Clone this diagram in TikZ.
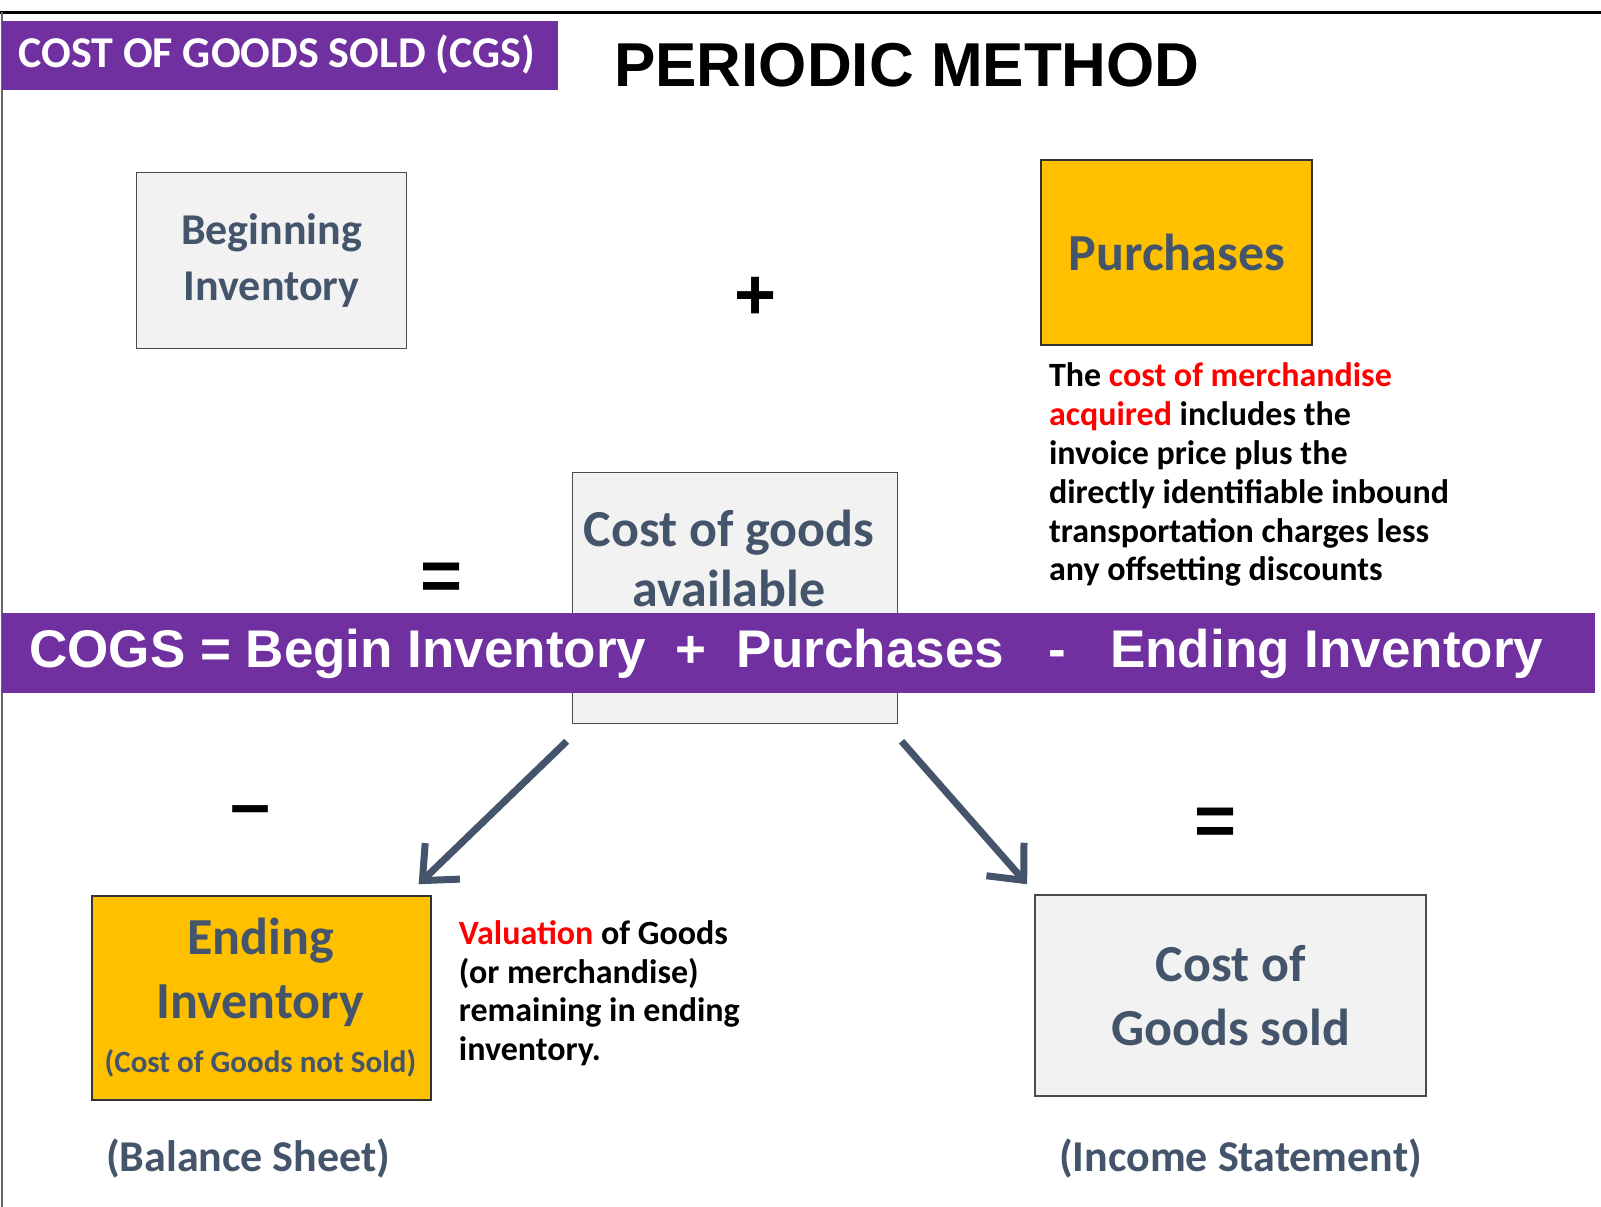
\documentclass[tikz,border=0pt]{standalone}
\usepackage{fontspec}
\setmainfont{Carlito}
\newfontfamily\arial{Liberation Sans}
\usetikzlibrary{arrows.meta}
\definecolor{slate}{HTML}{44546A}
\definecolor{purp}{HTML}{7030A0}
\definecolor{gold}{HTML}{FFC000}
\definecolor{lgray}{HTML}{F2F2F2}
\begin{document}
\begin{tikzpicture}[x=1.021pt,y=-1.021pt,
  lbox/.style={draw=black!70,line width=1.5pt,fill=lgray,text=slate,font=\bfseries\fontsize{44}{56}\selectfont,align=center},
  gbox/.style={draw=black!80,line width=2pt,fill=gold,text=slate,font=\bfseries\fontsize{52}{62}\selectfont,align=center},
  note/.style={anchor=north west,align=left,font=\bfseries\fontsize{34}{38.8}\selectfont},
  sign/.style={font=\arial\bfseries\fontsize{72}{72}\selectfont},
  arr/.style={draw=slate,line width=7pt,-{Straight Barb[length=28pt,width=50pt,line width=7pt]}},
  captxt/.style={text=slate,font=\bfseries\fontsize{44}{50}\selectfont}]
\useasboundingbox (0,0) rectangle (1568,1182);
\fill[white] (0,0) rectangle (1568,1182);
\draw[line width=3pt] (0,12) -- (1568,12);
\draw[black!60,line width=1.5pt] (2,12) -- (2,1182);
\node[fill=purp,minimum width=556pt,minimum height=69pt,anchor=north west,inner sep=0pt] (hdr) at (2,20) {};
\node[text=white,font=\bfseries\fontsize{44}{44}\selectfont] (hdrt) at (271,53) {COST OF GOODS SOLD (CGS)};
\node[font=\arial\bfseries\fontsize{62}{62}\selectfont,anchor=west] (title) at (598,64) {PERIODIC METHOD};
\node[lbox,minimum width=270pt,minimum height=176pt,anchor=north west] (beg) at (133,168) {Beginning\\Inventory};
\node[sign] (plus) at (740,292) {+};
\node[gbox,minimum width=271pt,minimum height=185pt,anchor=north west] (pur) at (1019,156) {Purchases};
\node[note] (pnote) at (1024,352) {The \textcolor{red}{cost of merchandise}\\\textcolor{red}{acquired} includes the\\invoice price plus the\\directly identifiable inbound\\transportation charges less\\any offsetting discounts};
\node[sign] (eq1) at (432,570) {=};
\node[lbox,minimum width=325pt,minimum height=251pt,anchor=north west] (avail) at (560,462) {};
\node[text=slate,font=\bfseries\fontsize{52}{60}\selectfont,anchor=north,align=center] (availt) at (714,496) {Cost of goods\\available};
\node[fill=purp,minimum width=1593pt,minimum height=80pt,anchor=north west,inner sep=0pt] (band) at (2,600) {};
\node[text=white,font=\arial\bfseries\fontsize{53}{53}\selectfont] (bandt) at (770,640) {COGS = Begin Inventory \ + \ Purchases \ \ - \ \ Ending Inventory};
\node[gbox,minimum width=339pt,minimum height=204pt,anchor=north west] (end) at (89,877) {};
\node[text=slate,font=\bfseries\fontsize{52}{64}\selectfont,align=center,anchor=north] (endt) at (255,896) {Ending\\Inventory};
\node[text=slate,font=\bfseries\fontsize{31}{31}\selectfont] (endn) at (255,1041) {(Cost of Goods not Sold)};
\node[note] (vnote) at (446,898) {\textcolor{red}{Valuation} of Goods\\(or merchandise)\\remaining in ending\\inventory.};
\node[lbox,font=\bfseries\fontsize{52}{64}\selectfont,minimum width=391pt,minimum height=201pt,anchor=north west] (cgs) at (1013,876) {Cost of\\Goods sold};
\node[sign] (minus) at (245,800) {–};
\node[sign] (eq2) at (1190,810) {=};
\node[captxt] (bs) at (243,1135) {(Balance Sheet)};
\node[captxt] (is) at (1215,1135) {(Income Statement)};
\coordinate (a1) at (555,726);
\coordinate (a2) at (883,726);
\coordinate (b1) at (410,866);
\coordinate (b2) at (1006,866);
\draw[arr] (a1) -- (b1);
\draw[arr] (a2) -- (b2);
\end{tikzpicture}
\end{document}
